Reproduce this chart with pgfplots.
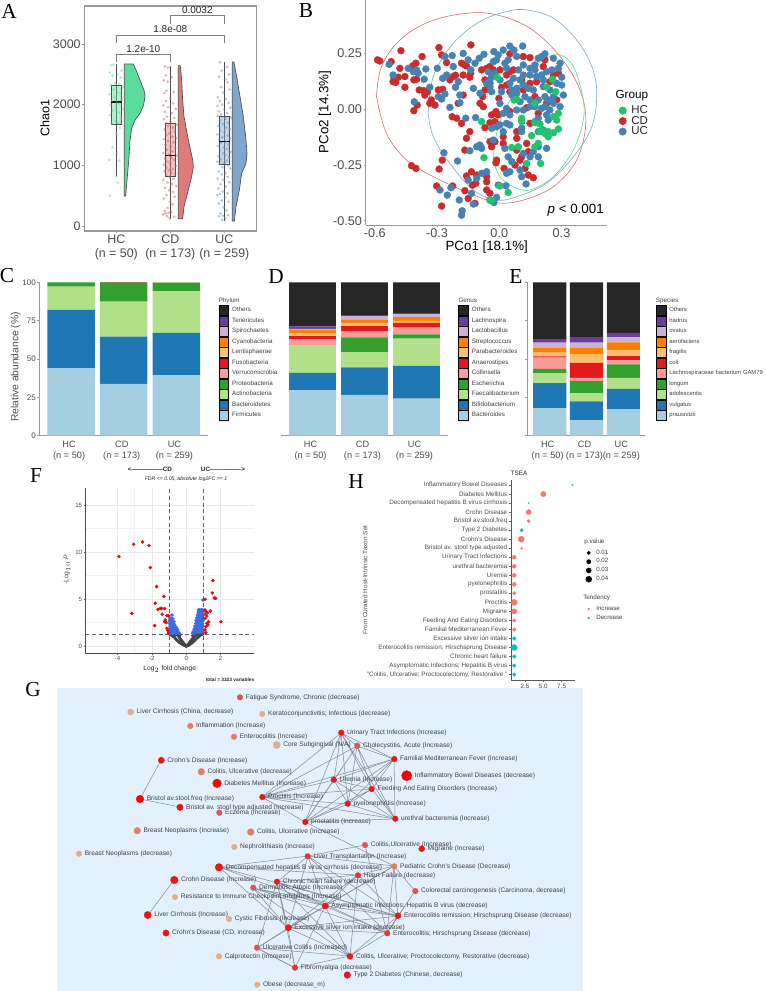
\documentclass[border=0pt]{standalone}
\usepackage{pgfplots}
\usepackage{pgfplotstable}
\usepackage{fontspec}
\pgfplotsset{compat=1.18}
\setmainfont{Liberation Sans}
\newfontfamily\ser{Liberation Serif}
\newcommand\fs[1]{\fontsize{#1}{#1}\selectfont}
\definecolor{tg}{HTML}{4D4D4D}
\definecolor{gt}{HTML}{404048}
\definecolor{axg}{HTML}{9A9A9A}
\definecolor{hcA}{HTML}{5CDC9C}
\definecolor{cdA}{HTML}{E07A78}
\definecolor{ucA}{HTML}{7FA6CE}
\definecolor{hcB}{HTML}{1FC46C}
\definecolor{cdB}{HTML}{CC2B2B}
\definecolor{ucB}{HTML}{4682B4}
\definecolor{p1}{HTML}{A6CEE3}\definecolor{p2}{HTML}{1F78B4}\definecolor{p3}{HTML}{B2DF8A}\definecolor{p4}{HTML}{33A02C}
\definecolor{p5}{HTML}{FB9A99}\definecolor{p6}{HTML}{E31A1C}\definecolor{p7}{HTML}{FDBF6F}\definecolor{p8}{HTML}{FF7F00}
\definecolor{p9}{HTML}{CAB2D6}\definecolor{p10}{HTML}{6A3D9A}\definecolor{p11}{HTML}{262626}
\definecolor{gbg}{HTML}{E3F0FD}
\definecolor{hR}{HTML}{F8766D}\definecolor{hT}{HTML}{00BFC4}
\definecolor{gR}{HTML}{FF0000}\definecolor{gA}{HTML}{EC1616}\definecolor{gB}{HTML}{E83434}\definecolor{gC}{HTML}{E25252}
\definecolor{gS}{HTML}{E27E68}\definecolor{gT}{HTML}{E2B088}
\definecolor{fG}{HTML}{454545}\definecolor{fB}{HTML}{3F6BD9}\definecolor{fR}{HTML}{D81010}
\definecolor{edgec}{HTML}{8B9099}
\pgfplotsset{
 pan/.style={scale only axis,anchor=south west,tick pos=left,tick align=outside,major tick length=1.6pt,
   /pgf/number format/assume math mode=true,tick style={color=axg,line width=.5pt},axis line style={color=axg,line width=.7pt},
   every tick label/.append style={text=tg,inner sep=1pt}},
 sw/.style={legend image code/.code={\fill[fill=#1] (0pt,-3.7pt) rectangle (7.4pt,3.7pt);}},
 stk/.style={pan,ybar stacked,bar width=0.9,ymin=0,ymax=100.2,axis lines*=left,axis line style={-,color=axg,line width=.8pt},
   xmin=0.4,xmax=3.6,xtick={1,2,3},xticklabels={{HC\\(n = 50)},{CD\\(n = 173)},{UC\\(n = 259)}},
   x tick style={draw=none},
   xticklabel style={font=\fontsize{6.9}{8}\selectfont,align=center,xshift=-1.5pt,yshift=-1.5pt},
   legend cell align=left,
   legend style={draw=none,fill=none,inner sep=0pt,outer sep=0pt,row sep=0pt,column sep=2.4pt,anchor=north west,
     font=\fs{4.7},text=gt,nodes={inner sep=0pt,minimum height=7.875pt}}},
 seg/.style={draw=none,fill=#1,forget plot},
 edge/.style={color=edgec,line width=.4pt,forget plot},
 jit/.style={only marks,mark=*,mark size=1pt,color=#1,mark options={line width=.1pt,opacity=.42}},
 bpt/.style={only marks,mark=*,mark size=2.6pt,color=#1,mark options={line width=.3pt},forget plot},
 fpt/.style={only marks,mark=*,mark size=1.2pt,color=#1,mark options={line width=.25pt}},
}
\newcommand\tx[4][]{\node[inner sep=0pt,#1] at (#2*0.75pt,-#3*0.75pt) {#4};}
\newcommand\gn[5]{\addplot[only marks,mark=*,mark size=#3*0.75pt-0.15pt,color=#4,mark options={line width=.3pt},forget plot] coordinates {(#1,#2)};
 \node[anchor=west,inner sep=0pt,font=\fs{4.95},text=gt,xshift=#3*0.75pt+1.9pt] at (axis cs:#1,#2) {#5};}
\newcommand\hd[3]{\addplot[only marks,mark=*,mark size=#1pt-0.1pt,color=#2,mark options={line width=.2pt},forget plot] coordinates {#3};}
\pgfplotstableread{
g Firmicutes Bacteroidetes Actinobacteria Proteobacteria Verrucomicrobia Others
1 43.9 38.1 15.2 2.8 0.0 0.0
2 33.7 30.9 22.8 12.2 0.3 0.1
3 39.3 27.7 27.3 5.5 0.2 0.0
}\tblC
\pgfplotstableread{
g a b c d e f h i j k o
1 29.7 11.2 18.2 0.0 3.7 2.1 2.2 1.7 0.9 1.5 28.8
2 26.6 18.0 9.9 9.6 4.1 3.2 2.2 1.9 2.2 0.9 21.4
3 24.2 21.3 17.7 2.8 4.8 2.8 1.3 2.4 1.7 1.1 19.9
}\tblD
\pgfplotstableread{
g a b c d e f h i j k o
1 18.0 16.2 6.5 2.8 7.4 0.8 2.4 3.0 3.5 2.4 37.0
2 10.0 12.3 5.4 7.8 2.2 9.7 5.8 3.9 3.5 3.7 35.7
3 17.3 13.2 7.2 8.8 2.6 2.8 3.9 5.0 3.3 3.0 32.9
}\tblE
\begin{document}
\begin{tikzpicture}
\fill[white,use as bounding box] (0,0) rectangle (573.75pt,-743.25pt);
% ---------- A
\begin{axis}[pan,at={(84.3*0.75pt,-231*0.75pt)},width=128.8pt,height=168.75pt,xmin=0.407,xmax=3.587,ymin=-82,ymax=3626,
 xtick={1,2,3},xticklabels={{HC\\(n = 50)},{CD\\(n = 173)},{UC\\(n = 259)}},ytick={0,1000,2000,3000},yticklabels={0,1000,2000,3000},
 axis line style={color=axg,line width=.8pt},
 xticklabel style={font=\fontsize{9.3}{10.6}\selectfont,align=center},yticklabel style={font=\fs{9.3}}]
\addplot[jit=hcA] coordinates {
(0.90,2650)(0.95,2660)(1.10,2560)(0.88,2530)(0.93,2480)(1.02,2500)(1.08,2450)(0.98,2350)(1.05,2340)(0.90,2320)(1.12,2290)(0.95,2250)(1.03,2200)(0.87,2170)(1.08,2150)(0.97,2120)(1.10,2080)(0.92,2060)(1.01,2040)(1.06,2020)(0.89,1990)(0.99,1960)(1.12,1930)(0.94,1900)(1.05,1870)(0.88,1830)(1.09,1780)(0.97,1730)(1.03,1700)(0.91,1690)(1.07,1620)(1.00,1520)(0.93,1300)(1.02,1210)(0.87,1090)(1.05,1080)(1.00,820)(1.03,710)(0.88,500)};
\addplot[jit=cdA!85!black] coordinates {
(1.90,2630)(1.96,2610)(1.92,2480)(2.03,2450)(1.88,2400)(1.95,2380)(1.93,2230)(2.06,2210)(1.89,2190)(2.0,2100)(1.92,2060)(2.05,2020)(1.87,1990)(1.96,1960)(2.1,1930)(1.9,1880)(2.03,1860)(1.94,1800)(2.07,1780)(1.88,1760)(2.0,1720)(1.92,1700)(2.12,1670)(1.96,1650)(2.05,1620)(1.89,1590)(2.08,1560)(1.98,1530)(1.93,1500)(2.04,1470)(2.11,1450)(1.88,1430)(1.96,1400)(2.06,1380)(1.91,1340)(2.01,1310)(2.09,1290)(1.94,1260)(2.04,1230)(1.87,1200)(1.97,1180)(2.12,1160)(2.02,1130)(1.9,1110)(2.07,1090)(1.95,1060)(2.0,1030)(1.88,1010)(2.1,990)(1.93,960)(2.05,940)(1.97,920)(1.89,900)(2.02,880)(2.09,860)(1.92,840)(1.99,810)(2.06,780)(1.87,760)(1.95,720)(2.03,690)(2.11,660)(1.9,630)(1.98,590)(2.05,560)(1.93,510)(2.08,480)(1.88,450)(2.0,400)(2.04,360)(1.95,300)(1.9,250)(1.97,220)(1.87,190)(1.94,160)(2.02,230)(1.99,130)(2.07,150)(1.91,210)};
\addplot[jit=ucA!85!black] coordinates {
(2.92,2700)(3.05,2620)(2.95,2560)(3.09,2500)(2.9,2460)(3.02,2420)(3.06,2370)(2.94,2290)(3.1,2250)(2.98,2200)(2.88,2120)(3.03,2090)(2.92,2060)(3.08,2030)(2.96,2000)(2.87,1980)(3.11,1950)(3.0,1920)(2.9,1890)(3.05,1860)(2.94,1840)(2.88,1810)(3.12,1790)(3.02,1770)(2.92,1740)(3.07,1700)(2.97,1680)(2.89,1650)(3.04,1620)(3.1,1600)(2.93,1570)(3.0,1540)(2.87,1510)(3.06,1490)(2.96,1460)(3.11,1440)(2.9,1420)(3.03,1390)(2.94,1370)(3.08,1340)(2.88,1320)(2.99,1290)(3.05,1270)(2.92,1250)(3.12,1220)(2.97,1200)(3.02,1170)(2.89,1150)(3.09,1130)(2.94,1100)(3.04,1080)(2.87,1060)(3.0,1040)(2.91,1020)(3.07,1000)(2.96,970)(3.11,950)(2.9,900)(3.02,870)(2.95,850)(3.06,810)(2.88,780)(2.98,760)(3.09,720)(2.93,690)(3.03,650)(2.89,620)(2.97,570)(3.06,540)(2.92,530)(2.87,510)(3.01,470)(2.95,420)(3.08,400)(2.9,370)(2.99,310)(3.04,260)(2.93,210)(2.97,170)(3.02,130)(2.9,160)(3.07,180)(2.96,100)};
\addplot[draw=tg,line width=.5pt,fill=hcA] coordinates {(1.148,2670)(1.315,2670)(1.364,2571)(1.438,2407)(1.512,2242)(1.531,2143)(1.506,1995)(1.438,1857)(1.346,1747)(1.284,1610)(1.253,1418)(1.235,1143)(1.204,813)(1.173,495)(1.148,495)} --cycle;
\addplot[draw=tg,line width=.5pt,fill=cdA] coordinates {(2.148,2643)(2.185,2643)(2.21,2407)(2.228,2077)(2.253,1802)(2.333,1418)(2.414,1088)(2.426,978)(2.395,813)(2.333,593)(2.253,319)(2.228,121)(2.148,121)} --cycle;
\addplot[draw=tg,line width=.5pt,fill=ucA] coordinates {(3.148,2703)(3.179,2703)(3.228,2462)(3.29,2132)(3.352,1802)(3.401,1418)(3.42,1198)(3.401,1033)(3.321,868)(3.278,593)(3.216,319)(3.185,82)(3.148,82)} --cycle;
\addplot[draw=tg,line width=.4pt] coordinates {(1,824)(1,2670)};
\addplot[draw=tg,line width=.4pt] coordinates {(2,121)(2,2643)};
\addplot[draw=tg,line width=.4pt] coordinates {(3,82)(3,2703)};
\addplot[draw=tg,line width=.4pt,fill=hcA,fill opacity=.45] coordinates {(0.9,1676)(1.1,1676)(1.1,2319)(0.9,2319)} --cycle;
\addplot[draw=tg,line width=.4pt,fill=cdA,fill opacity=.45] coordinates {(1.9,813)(2.1,813)(2.1,1692)(1.9,1692)} --cycle;
\addplot[draw=tg,line width=.4pt,fill=ucA,fill opacity=.45] coordinates {(2.9,1016)(3.1,1016)(3.1,1808)(2.9,1808)} --cycle;
\addplot[black,line width=.9pt] coordinates {(0.9,2044)(1.1,2044)};
\addplot[black,line width=.9pt] coordinates {(1.9,1165)(2.1,1165)};
\addplot[black,line width=.9pt] coordinates {(2.9,1396)(3.1,1396)};
\addplot[gray,line width=.4pt] coordinates {(1,2709)(1,2835)(2,2835)(2,2709)};
\addplot[gray,line width=.4pt] coordinates {(1,3011)(1,3148)(3,3148)(3,3011)};
\addplot[gray,line width=.4pt] coordinates {(2,3330)(2,3467)(3,3467)(3,3330)};
\node[font=\fs{7.5},text=black!85,inner sep=0pt] at (axis cs:1.5,2920) {1.2e-10};
\node[font=\fs{7.5},text=black!85,inner sep=0pt] at (axis cs:2,3240) {1.8e-08};
\node[font=\fs{7.5},text=black!85,inner sep=0pt] at (axis cs:2.5,3560) {0.0032};
\end{axis}
\tx[rotate=90,font=\fs{9.4}]{45}{118}{Chao1}
% ---------- B
\begin{axis}[pan,at={(365.7*0.75pt,-225*0.75pt)},width=181pt,height=168.75pt,xmin=-0.644,xmax=0.5195,ymin=-0.519,ymax=0.4906,
 axis lines*=left,axis line style={-,color=axg,line width=.7pt},xtick={-0.6,-0.3,0,0.3},xticklabels={-0.6,-0.3,0.0,0.3},
 ytick={-0.5,-0.25,0,0.25},yticklabels={-0.50,-0.25,0.00,0.25},tick label style={font=\fs{9.5}},
 legend cell align=left,legend style={at={(1.045,0.533)},anchor=north west,draw=none,fill=none,inner sep=0pt,row sep=0pt,column sep=3pt,font=\fs{8.6},text=black!85,nodes={inner sep=0pt,minimum height=7.875pt}},
 legend image code/.code={\fill[#1] (3.2pt,0pt) circle (2.75pt); \path (0pt,0pt) (6.5pt,0pt);}]
\addplot[forget plot,smooth,tension=.6,color=cdB!70,line width=.45pt] coordinates {(-0.592,0.057)(-0.568,0.192)(-0.479,0.311)(-0.335,0.394)(-0.158,0.431)(-0.013,0.424)(0.148,0.364)(0.293,0.237)(0.389,0.087)(0.417,-0.063)(0.373,-0.228)(0.261,-0.347)(0.116,-0.407)(-0.013,-0.419)(-0.158,-0.370)(-0.318,-0.302)(-0.447,-0.228)(-0.544,-0.108)(-0.592,0.057)};
\addplot[forget plot,smooth,tension=.6,color=ucB!70,line width=.45pt] coordinates {(-0.343,-0.018)(-0.318,0.147)(-0.222,0.296)(-0.093,0.394)(0.035,0.439)(0.132,0.446)(0.261,0.409)(0.373,0.311)(0.446,0.192)(0.470,0.072)(0.446,-0.078)(0.357,-0.213)(0.228,-0.332)(0.084,-0.392)(-0.013,-0.407)(-0.125,-0.362)(-0.238,-0.243)(-0.318,-0.123)(-0.343,-0.018)};
\addplot[forget plot,smooth,tension=.6,color=hcB!70,line width=.45pt] coordinates {(-0.029,-0.228)(-0.013,-0.108)(0.035,0.012)(0.116,0.132)(0.212,0.222)(0.293,0.244)(0.357,0.192)(0.402,0.057)(0.405,-0.048)(0.357,-0.183)(0.261,-0.302)(0.148,-0.362)(0.068,-0.347)(0.003,-0.302)(-0.029,-0.228)};
\addplot[bpt=cdB] coordinates {
(-0.587,0.222)(-0.576,0.217)(-0.474,0.263)(-0.521,0.214)(-0.479,0.184)(-0.372,0.237)(-0.402,0.207)(-0.418,0.195)(-0.291,0.277)(-0.278,0.244)(-0.254,0.210)(-0.508,0.144)(-0.487,0.144)(-0.455,0.147)(-0.512,0.124)(-0.499,0.121)(-0.455,0.099)(-0.412,0.132)(-0.399,0.135)(-0.386,0.087)(-0.364,0.084)(-0.346,0.079)(-0.359,0.064)(-0.396,0.019)(-0.412,-0.006)(-0.335,0.027)(-0.310,0.019)(-0.327,0.042)(-0.294,0.087)(-0.273,0.090)(-0.222,0.147)(-0.238,0.132)(-0.211,0.153)(-0.182,0.207)(-0.166,0.199)(-0.138,0.162)(-0.137,0.289)(-0.158,0.195)(-0.069,0.132)(-0.045,0.192)(0.003,0.177)(0.051,0.169)(0.035,0.109)(0.051,0.079)(-0.002,0.049)(-0.069,0.087)(-0.080,0.057)(-0.093,0.027)(-0.077,0.012)(-0.174,0.064)(-0.198,0.027)(-0.227,-0.033)(-0.206,-0.040)(-0.182,-0.063)(-0.013,-0.018)(-0.021,-0.055)(-0.069,-0.082)(-0.045,-0.060)(0.148,-0.063)(-0.158,-0.130)(-0.166,-0.183)(-0.142,-0.100)(-0.045,-0.145)(-0.037,-0.168)(0.019,-0.123)(0.084,-0.100)(0.084,-0.130)(0.132,-0.153)(0.084,-0.183)(-0.013,-0.228)(-0.016,-0.240)(-0.275,-0.228)(-0.290,-0.268)(-0.423,-0.253)(-0.402,-0.265)(-0.302,-0.344)(-0.225,-0.344)(-0.278,-0.434)(-0.158,-0.299)(-0.134,-0.280)(-0.109,-0.295)(-0.129,-0.340)(-0.113,-0.332)(-0.061,-0.302)(-0.061,-0.325)(-0.061,-0.362)(-0.045,-0.377)(-0.166,-0.365)(-0.150,-0.400)(-0.117,-0.422)(0.124,-0.265)(0.100,-0.228)(0.076,-0.250)(0.164,-0.307)(0.023,-0.265)(0.116,0.237)(0.148,0.232)(0.220,0.222)(0.051,0.249)(-0.142,0.144)(-0.174,0.154)(0.132,0.007)(0.051,-0.010)(-0.005,-0.025)(-0.061,0.184)(-0.085,0.177)(-0.029,0.177)(0.068,0.177)(0.108,0.132)(0.148,0.117)(0.180,0.124)(0.285,0.162)(0.261,0.154)(0.244,0.124)(0.277,0.042)(0.228,0.027)(0.172,0.057)(0.188,-0.018)(0.035,0.154)(0.011,0.099)(-0.016,-0.010)(-0.037,-0.025)(-0.045,0.117)(0.212,0.192)(0.116,0.087)(0.140,-0.190)(0.108,-0.213)(-0.021,-0.145)(0.019,-0.153)(0.140,-0.295)};
\addplot[bpt=ucB] coordinates {
(-0.531,0.202)(-0.512,0.154)(-0.439,0.184)(-0.415,0.169)(-0.399,0.177)(-0.391,0.162)(-0.354,0.181)(-0.362,0.135)(-0.410,0.034)(-0.335,0.099)(-0.294,0.057)(-0.262,0.069)(-0.278,0.046)(-0.299,0.184)(-0.262,0.237)(-0.227,0.241)(-0.174,0.251)(-0.273,0.139)(-0.254,0.154)(-0.211,0.099)(-0.198,0.124)(-0.125,0.094)(-0.238,0.009)(-0.190,0.030)(-0.162,-0.040)(-0.114,-0.037)(-0.190,0.064)(-0.222,0.192)(-0.150,0.222)(-0.137,0.177)(-0.117,0.207)(-0.097,0.229)(-0.074,0.247)(-0.026,0.259)(-0.005,0.244)(0.019,0.266)(0.051,0.284)(0.113,0.284)(0.071,0.266)(0.084,0.237)(0.043,0.222)(0.027,0.207)(-0.013,0.222)(-0.029,0.214)(-0.053,0.169)(-0.037,0.147)(-0.061,0.117)(-0.045,0.102)(-0.093,0.072)(-0.037,0.079)(0.011,0.079)(0.060,0.087)(0.084,0.094)(0.100,0.132)(0.116,0.154)(0.092,0.177)(0.116,0.199)(0.148,0.184)(0.172,0.199)(0.188,0.229)(0.220,0.249)(0.204,0.237)(0.261,0.229)(0.293,0.207)(0.285,0.184)(0.301,0.144)(0.277,0.117)(0.301,0.109)(0.309,0.064)(0.261,0.057)(0.244,0.087)(0.212,0.102)(0.220,0.057)(0.188,0.042)(0.148,0.042)(0.124,0.057)(0.100,0.034)(0.084,0.072)(0.060,0.064)(0.035,0.004)(0.051,-0.025)(0.019,-0.018)(0.003,0.027)(0.084,-0.003)(0.116,-0.003)(0.148,0.012)(0.188,-0.040)(0.172,-0.055)(0.220,0.012)(0.244,-0.003)(0.228,-0.025)(0.236,-0.048)(0.212,-0.093)(0.188,-0.100)(0.293,0.012)(0.035,-0.063)(0.003,-0.070)(-0.013,-0.078)(-0.037,-0.085)(0.019,-0.100)(0.051,-0.070)(0.108,-0.085)(0.108,-0.100)(0.188,-0.168)(0.228,-0.175)(0.164,-0.190)(0.148,-0.213)(0.188,-0.213)(0.116,-0.198)(0.043,-0.213)(0.060,-0.235)(0.051,-0.280)(0.100,-0.272)(0.108,-0.302)(0.129,-0.335)(0.035,-0.287)(-0.093,-0.160)(-0.085,-0.175)(-0.109,-0.168)(-0.142,-0.186)(-0.029,-0.138)(0.027,-0.175)(-0.005,-0.340)(0.032,-0.343)(-0.013,-0.395)(-0.026,-0.418)(-0.045,-0.407)(-0.179,-0.455)(-0.182,-0.475)(-0.125,-0.425)(-0.134,-0.377)(-0.193,-0.407)(-0.251,-0.385)(-0.286,-0.362)(-0.233,-0.352)(-0.267,-0.195)(-0.201,-0.232)(-0.085,-0.287)(-0.061,-0.280)(-0.109,-0.310)(-0.150,-0.317)(0.116,0.109)(0.140,0.094)(0.164,0.087)(0.180,0.147)(0.204,0.154)(0.228,0.169)(0.253,0.177)(0.148,0.154)(0.172,0.177)(0.051,0.117)(0.068,0.139)(0.035,0.184)(0.003,0.132)(-0.021,0.162)(-0.045,0.132)(0.212,0.132)(0.236,0.042)(0.261,0.027)(0.204,0.004)(0.172,0.012)};
\addplot[bpt=hcB] coordinates {
(-0.085,-0.055)(-0.010,0.144)(0.228,0.099)(0.272,0.079)(0.256,0.135)(0.084,0.045)(0.071,0.042)(0.108,-0.040)(0.108,-0.055)(0.172,-0.060)(0.196,-0.066)(0.212,-0.100)(0.236,-0.123)(0.261,-0.105)(0.285,-0.088)(0.277,-0.048)(0.285,-0.018)(0.261,-0.033)(0.172,0.027)(0.156,-0.118)(0.188,-0.153)(0.172,-0.168)(0.060,-0.171)(0.092,-0.168)(-0.074,-0.217)(0.132,-0.243)(0.199,-0.243)(0.043,-0.373)(0.003,-0.344)(-0.045,-0.407)(-0.037,-0.410)(0.220,-0.108)(0.236,-0.100)(0.196,-0.100)};
\addlegendimage{color=hcB}\addlegendentry{HC}
\addlegendimage{color=cdB}\addlegendentry{CD}
\addlegendimage{color=ucB}\addlegendentry{UC}
\end{axis}
\tx[rotate=90,font=\fs{10}]{325}{112}{PCo2 [14.3\%]}
\tx[font=\fs{10}]{486.7}{247}{PCo1 [18.1\%]}
\tx[anchor=west,font=\fs{8.8}]{615.3}{95.7}{Group}
\tx[font=\fs{10}]{575.7}{210}{\textit{p} < 0.001}
% ---------- C
\begin{axis}[stk,at={(39.5*0.75pt,-435.7*0.75pt)},width=126.4pt,height=115.3pt,ytick={0,25,50,75,100},yticklabels={0,25,50,75,100},
 yticklabel style={font=\fs{6}},legend style={at={(1.0623,0.8474)}}]
\addplot[seg=p1] table[x=g,y=Firmicutes]{\tblC};
\addplot[seg=p2] table[x=g,y=Bacteroidetes]{\tblC};
\addplot[seg=p3] table[x=g,y=Actinobacteria]{\tblC};
\addplot[seg=p4] table[x=g,y=Proteobacteria]{\tblC};
\addplot[seg=p5] table[x=g,y=Verrucomicrobia]{\tblC};
\addplot[seg=p11] table[x=g,y=Others]{\tblC};
\addlegendimage{sw=p11}\addlegendentry{Others}
\addlegendimage{sw=p10}\addlegendentry{Tenericutes}
\addlegendimage{sw=p9}\addlegendentry{Spirochaetes}
\addlegendimage{sw=p8}\addlegendentry{Cyanobacteria}
\addlegendimage{sw=p7}\addlegendentry{Lentisphaerae}
\addlegendimage{sw=p6}\addlegendentry{Fusobacteria}
\addlegendimage{sw=p5}\addlegendentry{Verrucomicrobia}
\addlegendimage{sw=p4}\addlegendentry{Proteobacteria}
\addlegendimage{sw=p3}\addlegendentry{Actinobacteria}
\addlegendimage{sw=p2}\addlegendentry{Bacteroidetes}
\addlegendimage{sw=p1}\addlegendentry{Firmicutes}
\end{axis}
\tx[rotate=90,font=\fs{7.7},text=tg]{15.7}{367}{Relative abundance (\%)}
\tx[anchor=west,font=\fs{4.7},text=gt]{218.5}{300.7}{Phylum}
% ---------- D
\begin{axis}[stk,at={(281.3*0.75pt,-435.7*0.75pt)},width=124.8pt,height=115.3pt,ytick=\empty,y axis line style={draw=none},
 legend style={at={(1.0637,0.8474)}}]
\addplot[seg=p1] table[x=g,y=a]{\tblD};
\addplot[seg=p2] table[x=g,y=b]{\tblD};
\addplot[seg=p3] table[x=g,y=c]{\tblD};
\addplot[seg=p4] table[x=g,y=d]{\tblD};
\addplot[seg=p5] table[x=g,y=e]{\tblD};
\addplot[seg=p6] table[x=g,y=f]{\tblD};
\addplot[seg=p7] table[x=g,y=h]{\tblD};
\addplot[seg=p8] table[x=g,y=i]{\tblD};
\addplot[seg=p9] table[x=g,y=j]{\tblD};
\addplot[seg=p10] table[x=g,y=k]{\tblD};
\addplot[seg=p11] table[x=g,y=o]{\tblD};
\addlegendimage{sw=p11}\addlegendentry{Others}
\addlegendimage{sw=p10}\addlegendentry{Lachnospira}
\addlegendimage{sw=p9}\addlegendentry{Lactobacillus}
\addlegendimage{sw=p8}\addlegendentry{Streptococcus}
\addlegendimage{sw=p7}\addlegendentry{Parabacteroides}
\addlegendimage{sw=p6}\addlegendentry{Anaerostipes}
\addlegendimage{sw=p5}\addlegendentry{Collinsella}
\addlegendimage{sw=p4}\addlegendentry{Escherichia}
\addlegendimage{sw=p3}\addlegendentry{Faecalibacterium}
\addlegendimage{sw=p2}\addlegendentry{Bifidobacterium}
\addlegendimage{sw=p1}\addlegendentry{Bacteroides}
\end{axis}
\tx[anchor=west,font=\fs{4.7},text=gt]{458.3}{300.7}{Genus}
% ---------- E
\begin{axis}[stk,at={(527.6*0.75pt,-435.7*0.75pt)},width=88.35pt,height=115.3pt,ytick={0,25,50,75,100},yticklabels={},
 legend style={at={(1.0875,0.8474)},font=\fs{4.4}}]
\addplot[seg=p1] table[x=g,y=a]{\tblE};
\addplot[seg=p2] table[x=g,y=b]{\tblE};
\addplot[seg=p3] table[x=g,y=c]{\tblE};
\addplot[seg=p4] table[x=g,y=d]{\tblE};
\addplot[seg=p5] table[x=g,y=e]{\tblE};
\addplot[seg=p6] table[x=g,y=f]{\tblE};
\addplot[seg=p7] table[x=g,y=h]{\tblE};
\addplot[seg=p8] table[x=g,y=i]{\tblE};
\addplot[seg=p9] table[x=g,y=j]{\tblE};
\addplot[seg=p10] table[x=g,y=k]{\tblE};
\addplot[seg=p11] table[x=g,y=o]{\tblE};
\addlegendimage{sw=p11}\addlegendentry{Others}
\addlegendimage{sw=p10}\addlegendentry{hadrus}
\addlegendimage{sw=p9}\addlegendentry{ovatus}
\addlegendimage{sw=p8}\addlegendentry{aerofaciens}
\addlegendimage{sw=p7}\addlegendentry{fragilis}
\addlegendimage{sw=p6}\addlegendentry{coli}
\addlegendimage{sw=p5}\addlegendentry{Lachnospiraceae bacterium GAM79}
\addlegendimage{sw=p4}\addlegendentry{longum}
\addlegendimage{sw=p3}\addlegendentry{adolescentis}
\addlegendimage{sw=p2}\addlegendentry{vulgatus}
\addlegendimage{sw=p1}\addlegendentry{prausnitzii}
\end{axis}
\tx[anchor=west,font=\fs{4.7},text=gt]{655.7}{300.7}{Species}
% ---------- F
\begin{axis}[pan,at={(85.3*0.75pt,-653.3*0.75pt)},width=126.75pt,height=123.75pt,xmin=-5.87,xmax=3.96,ymin=-0.78,ymax=16.8,
 axis lines*=left,axis line style={-,color=black!70,line width=.7pt},xtick={-4,-2,0,2},xticklabels={-4,-2,0,2},ytick={0,5,10,15},yticklabels={0,5,10,15},
 minor tick num=1,grid=both,major grid style={gray!18,line width=.35pt},minor grid style={gray!10,line width=.25pt},
 tick label style={font=\fs{4.6}},tick style={color=black!60},major tick length=1.2pt,minor tick length=0pt]
\addplot[fpt=fG] coordinates {
(0,0)(0.03,0.02)(-0.03,0.02)(0.06,0.05)(-0.06,0.05)(0.1,0.1)(-0.1,0.1)(0.14,0.1)(-0.14,0.12)(0.13,0.2)(-0.13,0.22)(0.18,0.15)(-0.18,0.15)(0.18,0.3)(-0.18,0.3)(0.24,0.22)(-0.25,0.2)(0.22,0.42)(-0.22,0.45)(0.3,0.28)(-0.3,0.3)(0.28,0.55)(-0.28,0.6)(0.36,0.38)(-0.38,0.36)(0.33,0.7)(-0.33,0.72)(0.42,0.46)(-0.44,0.45)(0.4,0.85)(-0.4,0.9)(0.48,0.58)(-0.5,0.55)(0.38,1.1)(-0.38,1.1)(0.45,1.0)(-0.45,1.05)(0.55,0.7)(-0.57,0.68)(0.5,1.15)(-0.52,1.2)(0.62,0.85)(-0.63,0.8)(0.58,1.2)(-0.6,1.2)(0.7,0.95)(-0.7,0.95)(0.66,1.2)(-0.68,1.22)(0.76,1.05)(-0.78,1.05)(0.74,1.24)(-0.76,1.24)(0.84,1.15)(-0.85,1.15)(0.9,1.25)(-0.92,1.25)(0.97,1.28)(-0.98,1.28)};
\addplot[fpt=fB] coordinates {
(-0.83,3.3)(-0.95,3.0)(-0.88,2.9)(-0.78,2.9)(-0.98,2.7)(-0.9,2.6)(-0.8,2.6)(-0.72,2.6)(-0.97,2.4)(-0.88,2.3)(-0.78,2.3)(-0.68,2.3)(-0.95,2.1)(-0.85,2.05)(-0.75,2.05)(-0.65,2.05)(-0.58,2.0)(-0.97,1.85)(-0.87,1.8)(-0.77,1.8)(-0.67,1.8)(-0.57,1.8)(-0.5,1.75)(-0.95,1.55)(-0.85,1.55)(-0.75,1.55)(-0.65,1.55)(-0.55,1.55)(-0.47,1.5)(-0.95,1.35)(-0.85,1.35)(-0.75,1.35)(-0.65,1.35)(-0.55,1.35)(-0.45,1.35)(-0.38,1.35)
(0.72,3.85)(0.8,3.85)(0.88,3.85)(0.96,3.85)(0.98,4.9)(0.7,3.6)(0.78,3.6)(0.86,3.6)(0.94,3.6)(0.66,3.3)(0.74,3.3)(0.82,3.3)(0.9,3.3)(0.98,3.3)(0.62,3.0)(0.7,3.0)(0.78,3.0)(0.86,3.0)(0.94,3.0)(0.58,2.7)(0.66,2.7)(0.74,2.7)(0.82,2.7)(0.9,2.7)(0.98,2.7)(0.55,2.4)(0.63,2.4)(0.71,2.4)(0.79,2.4)(0.87,2.4)(0.95,2.4)(0.5,2.1)(0.58,2.1)(0.66,2.1)(0.74,2.1)(0.82,2.1)(0.9,2.1)(0.98,2.1)(0.46,1.8)(0.54,1.8)(0.62,1.8)(0.7,1.8)(0.78,1.8)(0.86,1.8)(0.94,1.8)(0.4,1.5)(0.48,1.5)(0.56,1.5)(0.64,1.5)(0.72,1.5)(0.8,1.5)(0.88,1.5)(0.96,1.5)(0.36,1.35)(0.5,1.35)};
\addplot[fpt=fR] coordinates {
(-3.91,9.52)(-3.06,10.84)(-2.54,11.09)(-2.17,10.7)(-2.09,8.35)(-1.72,6.33)(-1.30,5.29)(-1.80,4.55)(-3.16,3.48)(-1.84,2.17)(-1.65,3.9)(-1.51,4.0)(-1.43,4.0)(-1.26,3.98)(-1.40,3.38)(-1.12,3.23)(-1.03,3.23)(-1.22,2.77)(-1.16,2.49)(-1.26,2.6)(-1.12,1.88)(-1.07,1.63)(-1.03,1.35)(1.55,6.97)(1.51,5.65)(1.10,4.98)(1.63,5.12)(1.71,5.08)(2.02,2.59)(1.40,3.73)(1.09,3.84)(1.16,3.66)(1.24,3.55)(1.10,3.41)(1.2,3.2)(1.09,2.95)(1.3,2.59)(1.2,2.42)(1.26,2.24)(1.14,2.06)(1.1,1.71)(1.14,1.42)};
\addplot[densely dashed,black!60,line width=.35pt] coordinates {(-1,-0.78)(-1,16.8)};
\addplot[densely dashed,black!60,line width=.35pt] coordinates {(1,-0.78)(1,16.8)};
\addplot[densely dashed,black!60,line width=.35pt] coordinates {(-5.87,1.3)(3.96,1.3)};
\end{axis}
\tx[rotate=90,font=\fs{5},text=tg]{67}{570}{-Log$_{10}$ \textit{P}}
\tx[font=\fs{5},text=black!85]{169.7}{669}{Log$_2$ fold change}
\tx[anchor=east,font=\bfseries\fs{3.6},text=black!85]{254.5}{680}{total = 3323 variables}
\tx[font=\bfseries\fs{4.7},text=black!85]{150}{469}{<---------------CD}
\tx[font=\bfseries\fs{4.7},text=black!85]{223}{469}{UC--------------->}
\tx[font=\itshape\fs{3.9},text=black!85]{186}{479}{FDR <= 0.05, absolute log2FC >= 1}
% ---------- H
\begin{axis}[pan,at={(511*0.75pt,-680*0.75pt)},width=48pt,height=150.3pt,xmin=0.6,xmax=9.32,ymin=0.4,ymax=22.6,y dir=reverse,
 axis lines*=left,axis line style={-,color=black!65,line width=.6pt},tick style={color=black!60},
 xtick={2.5,5,7.5},xticklabels={2.5,5.0,7.5},ytick={1,...,22},tick label style={font=\fs{4.75}},
 yticklabels={Inflammatory Bowel Diseases,Diabetes Mellitus,Decompensated hepatitis B virus cirrhosis,Crohn Disease,Bristol av.stool.freq,Type 2 Diabetes,Crohn's Disease,Bristol av. stool type adjusted,Urinary Tract Infections,urethral bacteremia,Uremia,pyelonephritis,prostatitis,Proctitis,Migraine,Feeding And Eating Disorders,Familial Mediterranean Fever,Excessive silver ion intake,Enterocolitis remission; Hirschsprung Disease,Chronic heart failure,Asymptomatic Infections; Hepatitis B virus,{"Colitis, Ulcerative; Proctocolectomy, Restorative "}},
 legend cell align=left,legend style={at={(1.14,0.378)},anchor=north west,draw=none,fill=none,inner sep=0pt,row sep=0pt,column sep=2.3pt,font=\fs{4.6},text=gt,nodes={inner sep=0pt,minimum height=6.75pt}},
 legend image code/.code={\fill[#1] (3.2pt,0pt) circle (.65pt); \path (0pt,0pt) (6.4pt,0pt);}]
\hd{0.7}{hT}{(8.95,1)}
\hd{0.6}{hT}{(3.0,3)}
\hd{1.45}{hT}{(2.05,6)}
\hd{1.55}{hT}{(1.04,18)}
\hd{2.4}{hT}{(1.04,19)}
\hd{1.5}{hT}{(1.04,20)(1.04,21)(1.04,22)}
\hd{2.1}{hR}{(5.0,2)(1.04,15)}
\hd{2.0}{hR}{(3.0,4)}
\hd{1.3}{hR}{(3.0,5)}
\hd{2.4}{hR}{(2.0,7)(1.04,14)}
\hd{0.9}{hR}{(2.05,8)}
\hd{1.6}{hR}{(1.04,9)(1.04,10)(1.04,11)(1.04,12)}
\hd{1.5}{hR}{(1.04,13)(1.04,16)(1.04,17)}
\addlegendimage{color=hR}\addlegendentry{Increase}
\addlegendimage{color=hT}\addlegendentry{Decrease}
\end{axis}
\begin{axis}[scale only axis,anchor=south west,at={(511*0.75pt,-680*0.75pt)},width=48pt,height=150.3pt,xmin=0,xmax=1,ymin=0,ymax=1,hide axis,
 legend cell align=left,legend style={at={(1.14,0.6577)},anchor=north west,draw=none,fill=none,inner sep=0pt,row sep=0pt,column sep=2.3pt,font=\fs{4.6},text=gt,nodes={inner sep=0pt,minimum height=6.6pt}}]
\addlegendimage{legend image code/.code={\fill[black] (3.2pt,0pt) circle (1.15pt); \path (0pt,0pt) (6.4pt,0pt);}}\addlegendentry{0.01}
\addlegendimage{legend image code/.code={\fill[black] (3.2pt,0pt) circle (1.55pt); \path (0pt,0pt) (6.4pt,0pt);}}\addlegendentry{0.02}
\addlegendimage{legend image code/.code={\fill[black] (3.2pt,0pt) circle (1.85pt); \path (0pt,0pt) (6.4pt,0pt);}}\addlegendentry{0.03}
\addlegendimage{legend image code/.code={\fill[black] (3.2pt,0pt) circle (2.2pt); \path (0pt,0pt) (6.4pt,0pt);}}\addlegendentry{0.04}
\end{axis}
\tx[font=\fs{4.8},text=black!85]{519}{473}{TSEA}
\tx[rotate=90,font=\fs{4.8},text=tg]{365}{580}{From Curated Host-Intrinsic Taxon Set}
\tx[anchor=west,font=\fs{4.7},text=gt]{584}{541.7}{p.value}
\tx[anchor=west,font=\fs{4.7},text=gt]{583}{597.7}{Tendency}
% ---------- G
\begin{axis}[scale only axis,anchor=south west,at={(57.3*0.75pt,-990.7*0.75pt)},width=394.5pt,height=226.8pt,xmin=57.3,xmax=583.3,ymin=688.3,ymax=990.7,y dir=reverse,
 axis line style={draw=none},ticks=none,axis background/.style={fill=gbg},clip=false]
\addplot[edge] coordinates {(161,760)(140,799)(180,807)};
\addplot[edge] coordinates {(174,880)(148,915)};
\addplot[edge] coordinates {(341,733)(357,746)(341,733)(334,780)(341,733)(372,789)(341,733)(262,797)(341,733)(348,804)(341,733)(305,822)(341,733)(394,759)(341,733)(395,819)};
\addplot[edge] coordinates {(357,746)(334,780)(357,746)(372,789)(357,746)(262,797)(357,746)(348,804)(357,746)(305,822)(357,746)(394,759)(357,746)(395,819)};
\addplot[edge] coordinates {(334,780)(372,789)(334,780)(262,797)(334,780)(348,804)(334,780)(305,822)(334,780)(394,759)(334,780)(395,819)};
\addplot[edge] coordinates {(372,789)(262,797)(372,789)(348,804)(372,789)(305,822)(372,789)(394,759)(372,789)(395,819)};
\addplot[edge] coordinates {(262,797)(348,804)(262,797)(305,822)(262,797)(394,759)(262,797)(395,819)};
\addplot[edge] coordinates {(348,804)(305,822)(348,804)(394,759)(348,804)(395,819)};
\addplot[edge] coordinates {(305,822)(394,759)(305,822)(395,819)};
\addplot[edge] coordinates {(394,759)(395,819)};
\addplot[edge] coordinates {(305,822)(394,866)};
\addplot[edge] coordinates {(219,867)(308,856)(219,867)(325,906)(219,867)(288,928)(219,867)(398,916)(219,867)(358,875)};
\addplot[edge] coordinates {(308,856)(365,845)(308,856)(394,866)(308,856)(325,906)(308,856)(288,928)(308,856)(398,916)(308,856)(277,882)(308,856)(387,933)};
\addplot[edge] coordinates {(365,845)(387,933)};
\addplot[edge] coordinates {(358,875)(325,906)(358,875)(350,956)(358,875)(288,928)(358,875)(394,866)(358,875)(277,882)(358,875)(398,916)};
\addplot[edge] coordinates {(277,882)(325,906)(277,882)(288,928)(277,882)(295,968)(277,882)(398,916)(277,882)(387,933)(277,882)(257,948)(277,882)(350,956)};
\addplot[edge] coordinates {(253,888)(325,906)(253,888)(288,928)(253,888)(398,916)(253,888)(387,933)(253,888)(350,956)};
\addplot[edge] coordinates {(325,906)(288,928)(325,906)(350,956)(325,906)(398,916)(325,906)(387,933)(325,906)(295,968)(325,906)(257,948)(325,906)(394,866)};
\addplot[edge] coordinates {(288,928)(257,948)(288,928)(295,968)(288,928)(350,956)(288,928)(398,916)(288,928)(387,933)(288,928)(394,866)};
\addplot[edge] coordinates {(350,956)(257,948)(295,968)(350,956)(398,916)(387,933)(350,956)};
\addplot[edge] coordinates {(257,948)(295,968)};
\addplot[edge] coordinates {(394,866)(415,891)(398,916)(394,866)(387,933)(415,891)};
\addplot[edge] coordinates {(398,916)(387,933)};
\gn{240}{697.3}{3}{gC}{Fatigue Syndrome, Chronic (decrease)}
\gn{130.7}{712}{3.3}{gT}{Liver Cirrhosis (China, decrease)}
\gn{262.3}{714}{3}{gT}{Keratoconjunctivitis; Infectious (decrease)}
\gn{190.3}{726}{3}{gS}{Inflammation (Increase)}
\gn{234}{736.7}{3}{gS}{Enterocolitis (Increase)}
\gn{276.7}{745}{3.8}{gT}{Core Subgingival (N/A)}
\gn{341.3}{732.7}{3}{gA}{Urinary Tract Infections (Increase)}
\gn{357.3}{745.7}{3}{gC}{Cholecystitis, Acute (Increase)}
\gn{161.3}{760.3}{3.3}{gA}{Crohn's Disease (Increase)}
\gn{201.3}{771.7}{3.5}{gS}{Colitis, Ulcerative (decrease)}
\gn{217}{783.3}{4.5}{gR}{Diabetes Mellitus (Increase)}
\gn{333.7}{779.7}{3}{gA}{Uremia (Increase)}
\gn{371.7}{789}{3}{gA}{Feeding And Eating Disorders (Increase)}
\gn{140}{799}{4}{gR}{Bristol av.stool.freq (Increase)}
\gn{180}{807.3}{3.4}{gA}{Bristol av. stool type adjusted (Increase)}
\gn{219.3}{812.7}{3}{gC}{Eczema (Increase)}
\gn{262.3}{797}{3}{gA}{Proctitis (Increase)}
\gn{347.7}{803.7}{3}{gA}{pyelonephritis (Increase)}
\gn{305.3}{822}{3}{gA}{prostatitis (Increase)}
\gn{137.3}{830.7}{3.5}{gS}{Breast Neoplasms (Increase)}
\gn{250.7}{832}{3.5}{gS}{Colitis, Ulcerative (Increase)}
\gn{394.3}{759}{3}{gA}{Familial Mediterranean Fever (Increase)}
\gn{406.7}{775.7}{5.3}{gR}{Inflammatory Bowel Diseases (decrease)}
\gn{395.3}{818.7}{3}{gA}{urethral bacteremia (Increase)}
\gn{79}{853.7}{3}{gT}{Breast Neoplasms (decrease)}
\gn{234.3}{847}{3}{gT}{Nephrolithiasis (Increase)}
\gn{365}{845}{3}{gC}{Colitis,Ulcerative (Increase)}
\gn{307.7}{856.3}{3}{gB}{Liver Transplantation (Increase)}
\gn{219}{867.3}{4}{gA}{Decompensated hepatitis B virus cirrhosis (decrease)}
\gn{358}{875.3}{3}{gB}{Heart Failure (decrease)}
\gn{174.3}{880}{4}{gA}{Crohn Disease (Increase)}
\gn{277}{881.7}{3}{gA}{Chronic heart failure (decrease)}
\gn{253.3}{887.7}{3}{gC}{Dermatitis, Atopic (Increase)}
\gn{175}{897}{3}{gT}{Resistance to Immune Checkpoint Inhibitors (Increase)}
\gn{325.3}{906}{3.3}{gA}{Asymptomatic Infections; Hepatitis B virus (decrease)}
\gn{147.7}{915}{3.8}{gA}{Liver Cirrhosis (Increase)}
\gn{229}{919}{3}{gT}{Cystic Fibrosis (Increase)}
\gn{288.3}{927.7}{3.3}{gA}{Excessive silver ion intake (decrease)}
\gn{166}{933}{3.4}{gA}{Crohn's Disease (CD, increase)}
\gn{257}{947.7}{3}{gC}{Ulcerative Colitis (Increased)}
\gn{219}{956.3}{3}{gT}{Calprotectin (Increase)}
\gn{350}{956.3}{3.2}{gA}{Colitis, Ulcerative; Proctocolectomy, Restorative (decrease)}
\gn{295}{967.7}{3}{gB}{Fibromyalgia (decrease)}
\gn{347.3}{975}{3.5}{gA}{Type 2 Diabetes (Chinese, decrease)}
\gn{257.3}{984.7}{3}{gT}{Obese (decrease\_m)}
\gn{421.7}{848.7}{3.2}{gA}{Migraine (Increase)}
\gn{394.3}{866.3}{3}{gS}{Pediatric Crohn's Disease (Decrease)}
\gn{415.3}{891}{3}{gC}{Colorectal carcinogenesis (Carcinoma, decrease)}
\gn{398}{915.7}{3.2}{gA}{Enterocolitis remission; Hirschsprung Disease (decrease)}
\gn{387.3}{933.3}{3}{gB}{Enterocolitis; Hirschsprung Disease (decrease)}
\end{axis}
% ---------- letters
\tx[font=\ser\fs{16}]{9}{11}{A}
\tx[font=\ser\fs{16}]{306}{11}{B}
\tx[font=\ser\fs{16}]{7}{276}{C}
\tx[font=\ser\fs{16}]{276}{277}{D}
\tx[font=\ser\fs{16}]{516}{277}{E}
\tx[font=\ser\fs{16}]{36}{476}{F}
\tx[font=\ser\fs{16}]{33}{690}{G}
\tx[font=\ser\fs{16}]{356}{482}{H}
\end{tikzpicture}
\end{document}
